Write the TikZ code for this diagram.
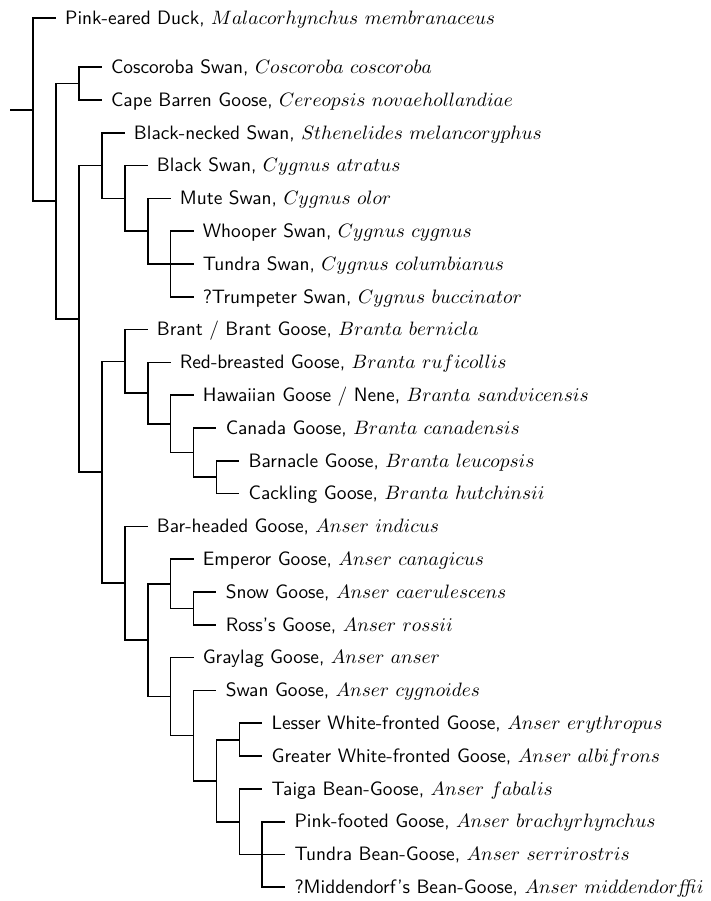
\documentclass[tikz,border=0pt]{standalone}
\usepackage{tikz}
\usepackage{amsmath, amssymb}

\tikzset{
	taxon/.style={anchor=west, inner xsep=4.6pt, inner ysep=0pt, text height=6.4pt, text depth=0pt, font=\sffamily},
	branch/.style={line width=0.9pt},
}

\begin{document}
\begin{tikzpicture}[x=11.84pt, y=-16.93pt]
	\useasboundingbox (-0.436,-0.549) rectangle (30.545,26.92);
	
	\node[taxon] (pinkeared) at (2,0) {Pink-eared Duck, $Malacorhynchus\ membranaceus$};
	\node[taxon] (coscoroba) at (4,1.5) {Coscoroba Swan, $Coscoroba\ coscoroba$};
	\node[taxon] (capebarren) at (4,2.5) {Cape Barren Goose, $Cereopsis\ novaehollandiae$};
	\node[taxon] (blacknecked) at (5,3.5) {Black-necked Swan, $Sthenelides\ melancoryphus$};
	\node[taxon] (blackswan) at (6,4.5) {Black Swan, $Cygnus\ atratus$};
	\node[taxon] (muteswan) at (7,5.5) {Mute Swan, $Cygnus\ olor$};
	\node[taxon] (whooper) at (8,6.5) {Whooper Swan, $Cygnus\ cygnus$};
	\node[taxon] (tundraswan) at (8,7.5) {Tundra Swan, $Cygnus\ columbianus$};
	\node[taxon] (trumpeter) at (8,8.5) {?Trumpeter Swan, $Cygnus\ buccinator$};
	\node[taxon] (brant) at (6,9.5) {Brant / Brant Goose, $Branta\ bernicla$};
	\node[taxon] (redbreasted) at (7,10.5) {Red-breasted Goose, $Branta\ ruficollis$};
	\node[taxon] (hawaiian) at (8,11.5) {Hawaiian Goose / Nene, $Branta\ sandvicensis$};
	\node[taxon] (canada) at (9,12.5) {Canada Goose, $Branta\ canadensis$};
	\node[taxon] (barnacle) at (10,13.5) {Barnacle Goose, $Branta\ leucopsis$};
	\node[taxon] (cackling) at (10,14.5) {Cackling Goose, $Branta\ hutchinsii$};
	\node[taxon] (barheaded) at (6,15.5) {Bar-headed Goose, $Anser\ indicus$};
	\node[taxon] (emperor) at (8,16.5) {Emperor Goose, $Anser\ canagicus$};
	\node[taxon] (snow) at (9,17.5) {Snow Goose, $Anser\ caerulescens$};
	\node[taxon] (ross) at (9,18.5) {Ross's Goose, $Anser\ rossii$};
	\node[taxon] (graylag) at (8,19.5) {Graylag Goose, $Anser\ anser$};
	\node[taxon] (swangoose) at (9,20.5) {Swan Goose, $Anser\ cygnoides$};
	\node[taxon] (lesserwf) at (11,21.5) {Lesser White-fronted Goose, $Anser\ erythropus$};
	\node[taxon] (greaterwf) at (11,22.5) {Greater White-fronted Goose, $Anser\ albifrons$};
	\node[taxon] (taiga) at (11,23.5) {Taiga Bean-Goose, $Anser\ fabalis$};
	\node[taxon] (pinkfooted) at (12,24.5) {Pink-footed Goose, $Anser\ brachyrhynchus$};
	\node[taxon] (tundrabean) at (12,25.5) {Tundra Bean-Goose, $Anser\ serrirostris$};
	\node[taxon] (middendorf) at (12,26.5) {?Middendorf's Bean-Goose, $Anser\ middendor\mathit{ffi}i$};
	
	\coordinate (stem) at (0,2.794);
	\coordinate (root) at (1,2.794);
	\coordinate (anserinae) at (2,5.588);
	\coordinate (cosco) at (3,2);
	\coordinate (swansgeese) at (3,9.176);
	\coordinate (cygnini) at (4,4.5);
	\coordinate (cygnus) at (5,5.5);
	\coordinate (cygtwo) at (6,6.5);
	\coordinate (cygthree) at (7,7.5);
	\coordinate (anserini) at (4,13.852);
	\coordinate (branta) at (5,10.469);
	\coordinate (brone) at (6,11.4375);
	\coordinate (brtwo) at (7,12.375);
	\coordinate (brthree) at (8,13.25);
	\coordinate (brfour) at (9,14);
	\coordinate (anser) at (5,17.234);
	\coordinate (anone) at (6,18.969);
	\coordinate (antwo) at (7,17.25);
	\coordinate (anthree) at (8,18);
	\coordinate (anfour) at (7,20.6875);
	\coordinate (anfive) at (8,21.875);
	\coordinate (ansix) at (9,23.25);
	\coordinate (anseven) at (10,22);
	\coordinate (aneight) at (10,24.5);
	\coordinate (annine) at (11,25.5);
	
	\draw[branch] (stem) -- (root);
	\draw[branch] (root) |- (pinkeared.west) (root) |- (anserinae);
	\draw[branch] (anserinae) |- (cosco) (anserinae) |- (swansgeese);
	\draw[branch] (cosco) |- (coscoroba.west) (cosco) |- (capebarren.west);
	\draw[branch] (swansgeese) |- (cygnini) (swansgeese) |- (anserini);
	
	\draw[branch] (cygnini) |- (blacknecked.west) (cygnini) |- (cygnus);
	\draw[branch] (cygnus) |- (blackswan.west) (cygnus) |- (cygtwo);
	\draw[branch] (cygtwo) |- (muteswan.west) (cygtwo) |- (cygthree);
	\draw[branch] (cygthree) |- (whooper.west) (cygthree) |- (tundraswan.west) (cygthree) |- (trumpeter.west);
	
	\draw[branch] (anserini) |- (branta) (anserini) |- (anser);
	\draw[branch] (branta) |- (brant.west) (branta) |- (brone);
	\draw[branch] (brone) |- (redbreasted.west) (brone) |- (brtwo);
	\draw[branch] (brtwo) |- (hawaiian.west) (brtwo) |- (brthree);
	\draw[branch] (brthree) |- (canada.west) (brthree) |- (brfour);
	\draw[branch] (brfour) |- (barnacle.west) (brfour) |- (cackling.west);
	
	\draw[branch] (anser) |- (barheaded.west) (anser) |- (anone);
	\draw[branch] (anone) |- (antwo) (anone) |- (anfour);
	\draw[branch] (antwo) |- (emperor.west) (antwo) |- (anthree);
	\draw[branch] (anthree) |- (snow.west) (anthree) |- (ross.west);
	\draw[branch] (anfour) |- (graylag.west) (anfour) |- (anfive);
	\draw[branch] (anfive) |- (swangoose.west) (anfive) |- (ansix);
	\draw[branch] (ansix) |- (anseven) (ansix) |- (aneight);
	\draw[branch] (anseven) |- (lesserwf.west) (anseven) |- (greaterwf.west);
	\draw[branch] (aneight) |- (taiga.west) (aneight) |- (annine);
	\draw[branch] (annine) |- (pinkfooted.west) (annine) |- (tundrabean.west) (annine) |- (middendorf.west);
\end{tikzpicture}
\end{document}
